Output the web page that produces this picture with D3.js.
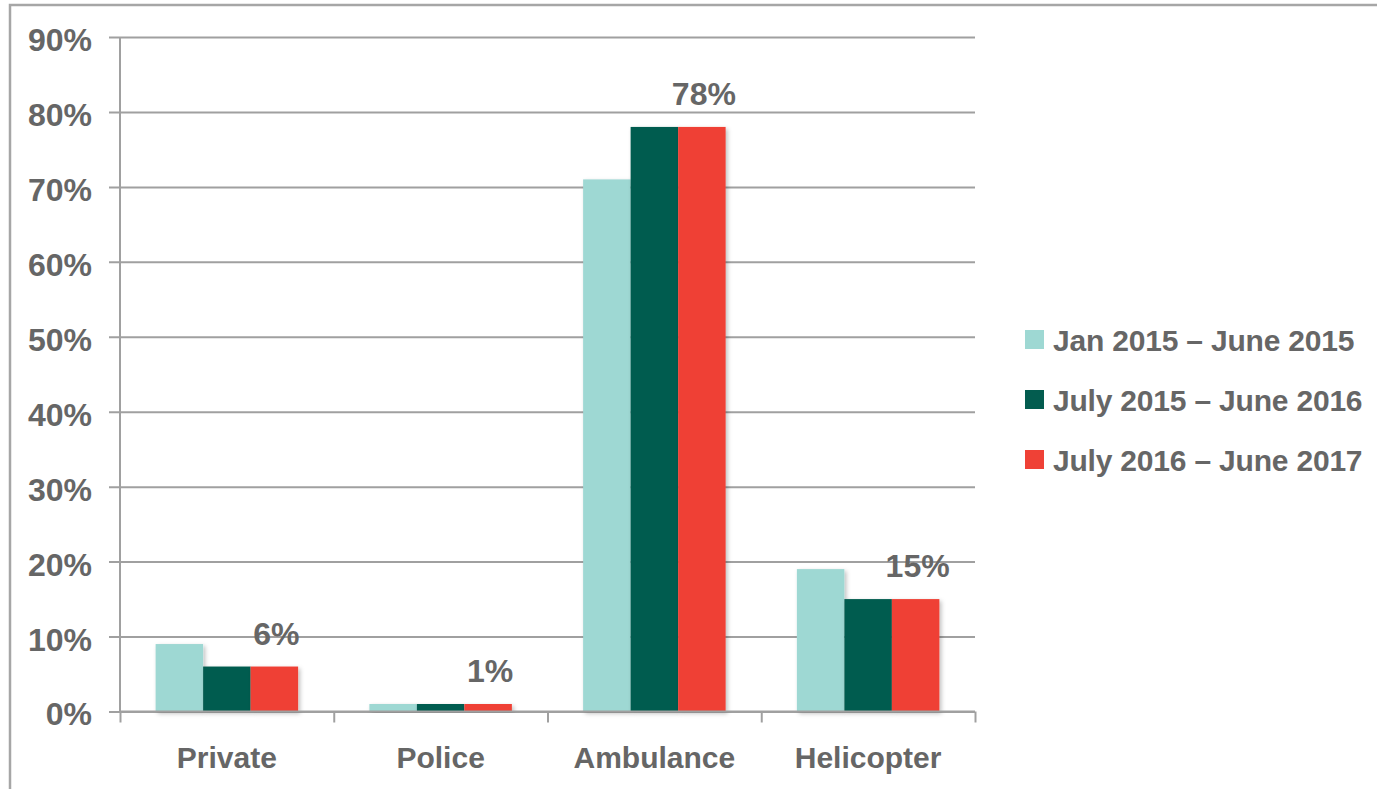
<!DOCTYPE html>
<html>
<head>
<meta charset="utf-8">
<script src="https://cdn.jsdelivr.net/npm/d3@7/dist/d3.min.js"></script>
<style>
  html, body { margin: 0; padding: 0; background: #fff; }
  svg { display: block; }
  text { font-family: "Liberation Sans", Arial, sans-serif; font-weight: bold; fill: #666666; }
</style>
</head>
<body>
<svg id="chart" width="1377" height="789"></svg>
<script>
const categories = ["Private", "Police", "Ambulance", "Helicopter"];
const seriesNames = ["Jan 2015 \u2013 June 2015", "July 2015 \u2013 June 2016", "July 2016 \u2013 June 2017"];
const seriesJan15 = [9, 1, 71, 19];
const seriesJul15 = [6, 1, 78, 15];
const seriesJul16 = [6, 1, 78, 15];
const yTicks = [0, 10, 20, 30, 40, 50, 60, 70, 80, 90];
const colors = ["#9ed8d3", "#035c4f", "#ef4136"];

const seriesValues = [seriesJan15, seriesJul15, seriesJul16];

(function () {
const svg = d3.select("#chart");

// outer frame
svg.append("rect")
  .attr("x", 10).attr("y", 5)
  .attr("width", 1400).attr("height", 820)
  .attr("fill", "none").attr("stroke", "#a6a6a6").attr("stroke-width", 2.5);

const defs = svg.append("defs");
const f = defs.append("filter").attr("id", "shadow")
  .attr("x", "-20%").attr("y", "-20%").attr("width", "140%").attr("height", "140%");
f.append("feDropShadow").attr("dx", 2).attr("dy", 2).attr("stdDeviation", 2)
  .attr("flood-color", "#000").attr("flood-opacity", 0.25);

const pLeft = 120, pRight = 975, pTop = 37, pBottom = 711.5;

const y = d3.scaleLinear().domain([0, 90]).range([pBottom, pTop]);
const x0 = d3.scaleBand().domain(categories).range([pLeft, pRight]).padding(0);
const x1 = d3.scaleBand().domain(d3.range(seriesNames.length))
  .range([0, x0.bandwidth()]).paddingInner(0).paddingOuter(0.75);

// gridlines + y axis ticks
const yAxis = d3.axisLeft(y).tickValues(yTicks)
  .tickSize(pRight - pLeft + 11).tickFormat(d => d + "%");
const gy = svg.append("g").attr("transform", `translate(${pRight},0)`).call(yAxis);
gy.select(".domain").remove();
gy.selectAll(".tick line").attr("stroke", "#a0a0a0").attr("stroke-width", 2);
gy.selectAll(".tick text")
  .attr("x", -(pRight - 92))
  .attr("dy", "0.42em")
  .attr("text-anchor", "end")
  .style("font-size", "32px").style("font-family", "'Liberation Sans', Arial, sans-serif")
  .style("font-weight", "bold").attr("fill", "#666666");

// y axis line
svg.append("line").attr("x1", pLeft).attr("x2", pLeft).attr("y1", pTop).attr("y2", pBottom)
  .attr("stroke", "#a0a0a0").attr("stroke-width", 2);

// bars
const groups = svg.append("g").selectAll("g").data(categories).join("g")
  .attr("transform", d => `translate(${x0(d)},0)`);
groups.selectAll("rect")
  .data((c, ci) => seriesValues.map((vals, si) => ({ si, v: vals[ci] })))
  .join("rect")
  .attr("x", d => x1(d.si))
  .attr("width", x1.bandwidth())
  .attr("y", d => y(d.v))
  .attr("height", d => y(0) - y(d.v))
  .attr("fill", d => colors[d.si])
  .attr("filter", "url(#shadow)");

// x axis
const xAxisScale = d3.scaleLinear().domain([0, categories.length]).range([pLeft, pRight]);
const gx = svg.append("g").attr("transform", `translate(0,${pBottom})`)
  .call(d3.axisBottom(xAxisScale).tickValues(d3.range(categories.length + 1)).tickSize(11).tickFormat(""));
gx.select(".domain").attr("stroke", "#a0a0a0").attr("stroke-width", 2).attr("d", `M${pLeft},0H${pRight}`);
gx.selectAll(".tick line").attr("stroke", "#a0a0a0").attr("stroke-width", 2);

// category labels
svg.append("g").selectAll("text").data(categories).join("text")
  .attr("x", d => x0(d) + x0.bandwidth() / 2)
  .attr("y", 768)
  .attr("text-anchor", "middle")
  .style("font-size", "30px")
  .text(d => d);

// value labels above last series
svg.append("g").selectAll("text").data(categories).join("text")
  .attr("x", d => x0(d) + x1(2) + x1.bandwidth() / 2 + 2)
  .attr("y", (d, i) => y(seriesJul16[i]) - 22)
  .attr("text-anchor", "middle")
  .style("font-size", "32px")
  .text((d, i) => seriesJul16[i] + "%");

// legend
const lg = svg.append("g").selectAll("g").data(seriesNames).join("g")
  .attr("transform", (d, i) => `translate(1025,${340 + i * 60})`);
lg.append("rect").attr("x", 0).attr("y", -10).attr("width", 19).attr("height", 19)
  .attr("fill", (d, i) => colors[i]);
lg.append("text").attr("x", 28).attr("y", 11)
  .style("font-size", "30px").style("letter-spacing", "-0.2px")
  .text(d => d);
})();
</script>
</body>
</html>
